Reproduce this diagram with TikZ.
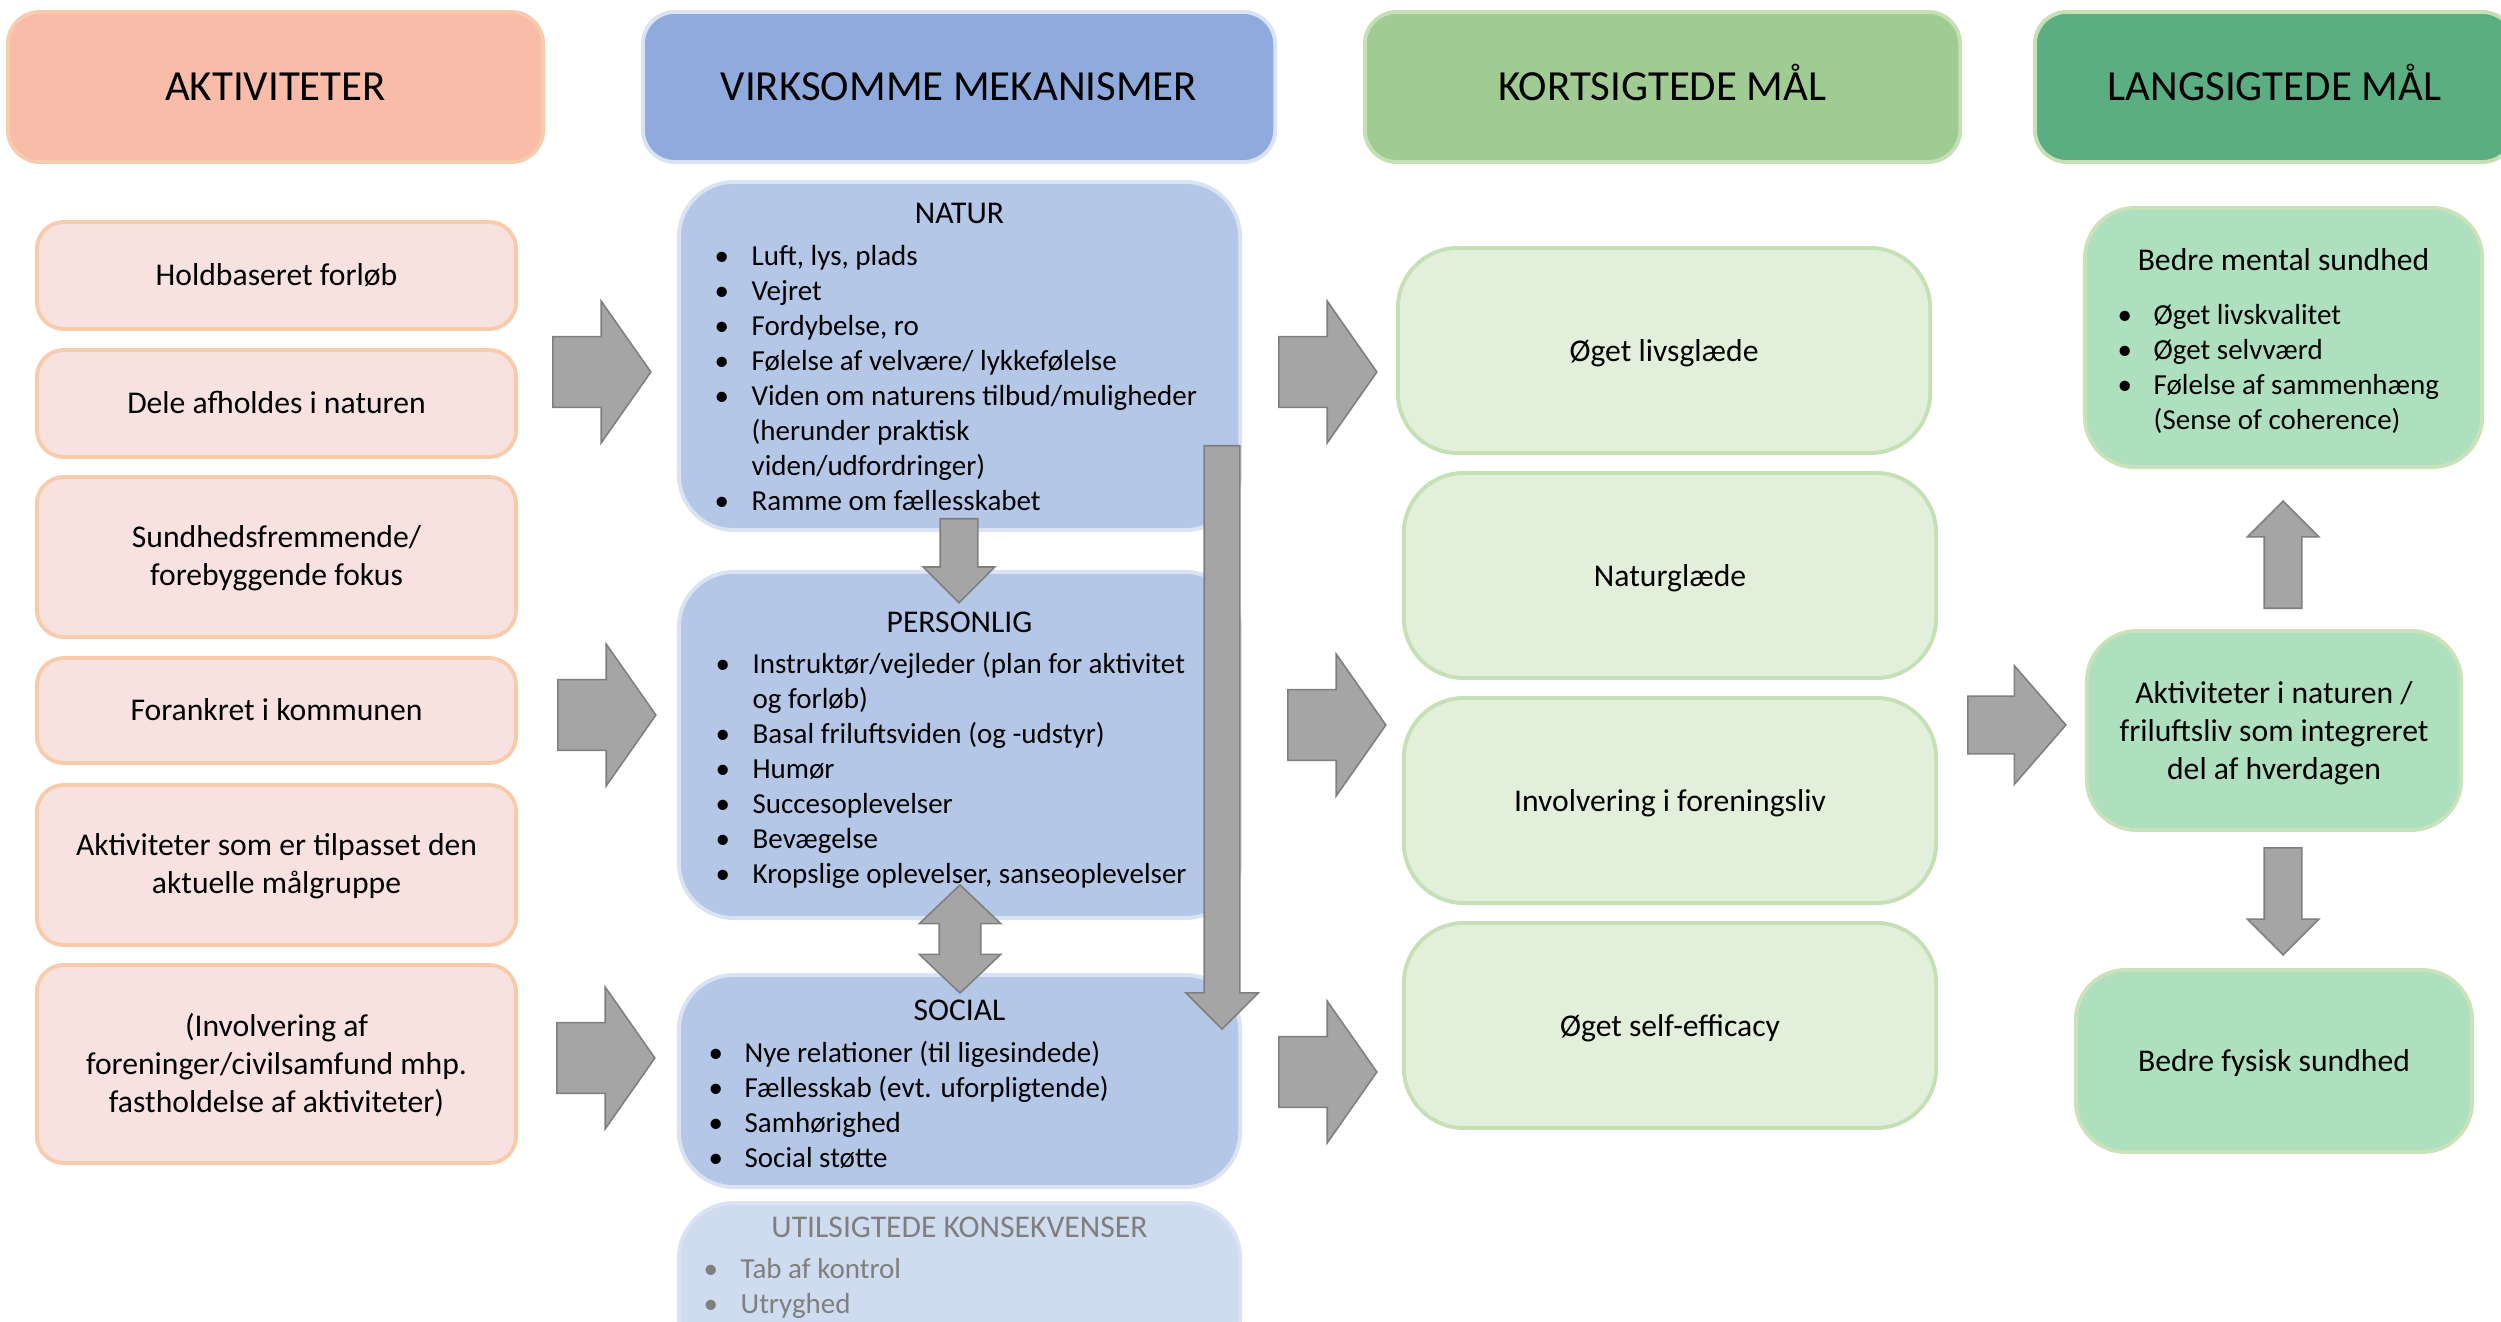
\documentclass[tikz,border=0pt]{standalone}
\usepackage{fontspec}
\setmainfont{Carlito}
\usepackage{tikz}
\usetikzlibrary{shapes.arrows,positioning}
\definecolor{aktHead}{HTML}{F8BCA9}
\definecolor{aktFill}{HTML}{F8E2E0}
\definecolor{aktLine}{HTML}{F8CBAD}
\definecolor{mekHead}{HTML}{8FAADC}
\definecolor{mekFill}{HTML}{B4C7E7}
\definecolor{mekLine}{HTML}{DAE3F3}
\definecolor{utilFill}{HTML}{CFDBEF}
\definecolor{kortHead}{HTML}{A0CB92}
\definecolor{kortFill}{HTML}{E2EFDA}
\definecolor{kortLine}{HTML}{C5E0B4}
\definecolor{langHead}{HTML}{5BAE82}
\definecolor{langFill}{HTML}{AEDFBE}
\definecolor{langLine}{HTML}{C9E2B9}
\definecolor{arrFill}{HTML}{A5A5A5}
\definecolor{arrLine}{HTML}{7F7F7F}
\newcommand{\boxline}{1.1pt}
\newcommand{\stor}{\fontsize{9}{10.8}\selectfont}
\newcommand{\lille}{\fontsize{8.25}{9.96}\selectfont}

\tikzset{
  hdr/.style={rounded corners=0.32cm, line width=\boxline, minimum height=1.5cm, inner sep=0pt, text height=7.9pt, text depth=0pt, font=\fontsize{12.2}{14.5}\selectfont},
  aktbox/.style={draw=aktLine, fill=aktFill, rounded corners=0.27cm, line width=\boxline, minimum width=4.79cm, align=center, text depth=0.6pt, font=\stor},
  mekbox/.style={draw=mekLine, fill=mekFill, rounded corners=0.55cm, line width=\boxline, minimum width=5.61cm},
  kortbox/.style={draw=kortLine, fill=kortFill, rounded corners=0.6cm, line width=\boxline, minimum width=5.32cm, minimum height=2.05cm, text depth=0pt, font=\stor},
  langbox/.style={draw=langLine, fill=langFill, rounded corners=0.5cm, line width=\boxline, align=center, text depth=0pt, font=\stor},
  titel/.style={anchor=base, inner sep=0pt, font=\stor},
  liste/.style={anchor=north west, inner sep=0pt, font=\lille},
  blok/.style={single arrow, draw=arrLine, fill=arrFill, line width=0.45pt, inner xsep=0pt, minimum width=0pt, anchor=tail},
  storpil/.style={blok, inner ysep=0.345cm, single arrow head extend=0.355cm, single arrow tip angle=110, minimum height=0.98cm},
  smalpil/.style={blok, inner ysep=0.18cm, single arrow head extend=0.17cm, single arrow tip angle=90}
}

\begin{document}
\begin{tikzpicture}[x=0.01cm,y=-0.01cm]
\useasboundingbox (0,0) rectangle (2501,1322);
%overskrifter
\node[hdr, fill=aktHead, draw=aktLine, minimum width=5.35cm] (akthead) at (275.5,87) {AKTIVITETER};
\node[hdr, fill=mekHead, draw=mekLine, minimum width=6.32cm] (mekhead) at (959,87) {VIRKSOMME MEKANISMER};
\node[hdr, fill=kortHead, draw=kortLine, minimum width=5.95cm] (korthead) at (1662.5,87) {KORTSIGTEDE MÅL};
\node[hdr, fill=langHead, draw=kortLine, minimum width=4.79cm] (langhead) at (2274.5,87) {LANGSIGTEDE MÅL};
%aktiviteter
\node[aktbox, minimum height=1.07cm] (akt1) at (276.5,275.5) {Holdbaseret forløb};
\node[aktbox, minimum height=1.07cm] (akt2) at (276.5,403.5) {Dele afholdes i naturen};
\node[aktbox, minimum height=1.60cm] (akt3) at (276.5,557) {Sundhedsfremmende/\\forebyggende fokus};
\node[aktbox, minimum height=1.05cm] (akt4) at (276.5,710.5) {Forankret i kommunen};
\node[aktbox, minimum height=1.60cm] (akt5) at (276.5,865) {Aktiviteter som er tilpasset den\\aktuelle målgruppe};
\node[aktbox, minimum height=1.98cm] (akt6) at (276.5,1064) {(Involvering af\\foreninger/civilsamfund mhp.\\fastholdelse af aktiviteter)};
%natur
\node[mekbox, minimum height=3.48cm] (natur) at (959.5,356) {};
\node[titel] (naturtitel) at ([shift={(0,44)}]natur.north) {NATUR};
\node[liste] (naturliste) at ([shift={(37,60.5)}]natur.north west) {\begin{tabular}{@{}p{0.37cm}@{}l@{}}
• & Luft, lys, plads\\
• & Vejret\\
• & Fordybelse, ro\\
• & Følelse af velvære/ lykkefølelse\\
• & Viden om naturens tilbud/muligheder\\
  & (herunder praktisk\\
  & viden/udfordringer)\\
• & Ramme om fællesskabet
\end{tabular}};
%personlig
\node[mekbox, minimum height=3.46cm] (personlig) at (959.5,745) {};
\node[titel] (personligtitel) at ([shift={(0,63)}]personlig.north) {PERSONLIG};
\node[liste] (personligliste) at ([shift={(38,78.5)}]personlig.north west) {\begin{tabular}{@{}p{0.37cm}@{}l@{}}
• & Instruktør/vejleder (plan for aktivitet\\
  & og forløb)\\
• & Basal friluftsviden (og -udstyr)\\
• & Humør\\
• & Succesoplevelser\\
• & Bevægelse\\
• & Kropslige oplevelser, sanseoplevelser
\end{tabular}};
%social
\node[mekbox, minimum height=2.12cm] (social) at (959.5,1081) {};
\node[titel] (socialtitel) at ([shift={(0,47)}]social.north) {SOCIAL};
\node[liste] (socialliste) at ([shift={(31,64.5)}]social.north west) {\begin{tabular}{@{}p{0.36cm}@{}l@{}}
• & Nye relationer (til ligesindede)\\
• & Fællesskab (evt. uforpligtende)\\
• & Samhørighed\\
• & Social støtte
\end{tabular}};
%utilsigtede
\node[mekbox, fill=utilFill, minimum height=1.70cm] (util) at (959.5,1288) {};
\node[titel, text=arrLine] (utiltitel) at ([shift={(0,36)}]util.north) {UTILSIGTEDE KONSEKVENSER};
\node[liste, text=arrLine] (utilliste) at ([shift={(26,52.5)}]util.north west) {\begin{tabular}{@{}p{0.37cm}@{}l@{}}
• & Tab af kontrol\\
• & Utryghed
\end{tabular}};
%kortsigtede
\node[kortbox] (livsglaede) at (1664,350.5) {Øget livsglæde};
\node[kortbox] (naturglaede) at (1670,575.5) {Naturglæde};
\node[kortbox] (forening) at (1670,800.5) {Involvering i foreningsliv};
\node[kortbox] (efficacy) at (1670,1025.5) {Øget self-efficacy};
%langsigtede
\node[langbox, minimum width=3.97cm, minimum height=2.59cm] (mental) at (2283.5,337.5) {};
\node[titel] (mentaltitel) at ([shift={(0,65)}]mental.north) {Bedre mental sundhed};
\node[liste] (mentalliste) at ([shift={(34,93)}]mental.north west) {\begin{tabular}{@{}p{0.36cm}@{}l@{}}
• & Øget livskvalitet\\
• & Øget selvværd\\
• & Følelse af sammenhæng\\
  & (Sense of coherence)
\end{tabular}};
\node[langbox, minimum width=3.74cm, minimum height=1.99cm] (hverdag) at (2274,730.5) {Aktiviteter i naturen /\\friluftsliv som integreret\\del af hverdagen};
\node[langbox, minimum width=3.96cm, minimum height=1.82cm] (fysisk) at (2274,1061) {Bedre fysisk sundhed};
%pile
\node[storpil] (p1) at (552,372) {};
\node[storpil] (p2) at (557,715) {};
\node[storpil] (p3) at (556,1058) {};
\node[storpil] (p4) at (1278,372) {};
\node[storpil] (p5) at (1287,725) {};
\node[storpil] (p6) at (1278,1072) {};
\node[blok, inner ysep=0.28cm, single arrow head extend=0.305cm, single arrow tip angle=98, minimum height=0.98cm] (p7) at (1967,725) {};
\node[smalpil, rotate=90, minimum height=1.07cm] (p8) at (2283,609) {};
\node[smalpil, rotate=-90, minimum height=1.07cm] (p9) at (2283,847) {};
\node[smalpil, rotate=-90, minimum height=0.84cm] (p10) at (959,518) {};
\node[double arrow, draw=arrLine, fill=arrFill, line width=0.45pt, inner xsep=0pt, inner ysep=0.2cm, minimum width=0pt, double arrow head extend=0.2cm, double arrow tip angle=93, rotate=90, minimum height=1.08cm] (p11) at (960,939) {};
\node[blok, inner ysep=0.17cm, single arrow head extend=0.185cm, single arrow tip angle=90, rotate=-90, minimum height=5.83cm] (p12) at (1222,445) {};
\end{tikzpicture}
\end{document}
